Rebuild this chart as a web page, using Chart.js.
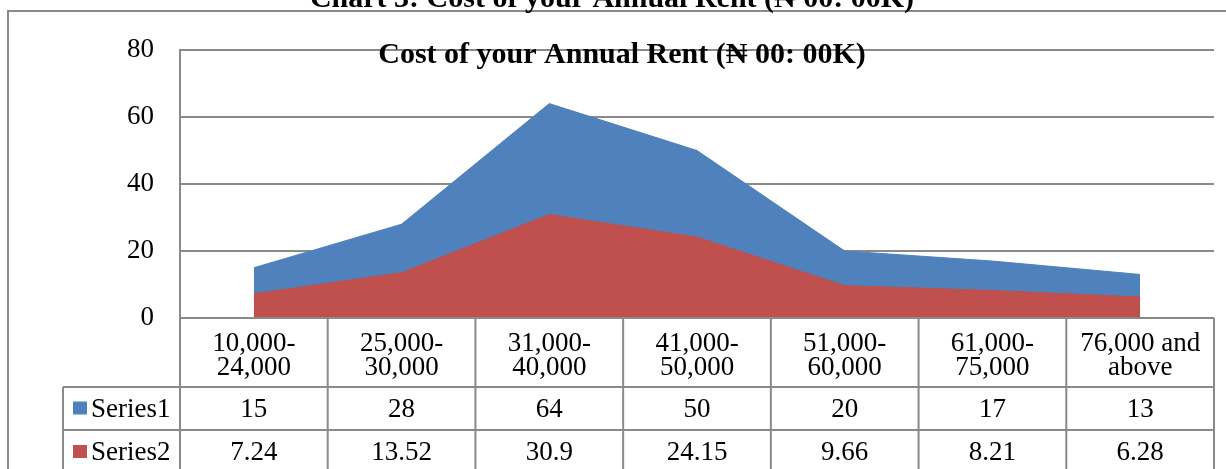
<!DOCTYPE html>
<html>
<head>
<meta charset="utf-8">
<script src="https://cdn.jsdelivr.net/npm/chart.js@4"></script>
<style>
  body { margin: 0; background: #fff; }
  canvas { display: block; }
</style>
</head>
<body>
<canvas id="myChart" width="1226" height="469"></canvas>
<script>
// data
var categories = [
    ['10,000-', '24,000'],
    ['25,000-', '30,000'],
    ['31,000-', '40,000'],
    ['41,000-', '50,000'],
    ['51,000-', '60,000'],
    ['61,000-', '75,000'],
    ['76,000 and', 'above']
];
var series1 = [15, 28, 64, 50, 20, 17, 13];
var series2 = [7.24, 13.52, 30.9, 24.15, 9.66, 8.21, 6.28];
var seriesNames = ['Series1', 'Series2'];
var yMin = 0, yMax = 80, yStep = 20;

var pageTitle = 'Chart 3: Cost of your Annual Rent (\u20A6 00: 00K)';
var chartTitle = 'Cost of your Annual Rent (\u20A6 00: 00K)';

var BLUE = '#4F81BD';
var RED = '#C0504D';
var GREY = '#8a8a8a';
var SERIF = "'Liberation Serif', 'DejaVu Serif', serif";

// frame, titles and data table underneath the plot
var extras = {
    id: 'extras',
    afterDraw: function(chart) {
        var ctx = chart.ctx;
        var area = chart.chartArea;
        var x = chart.scales.x;
        var n = categories.length;
        var colW = (area.right - area.left) / n;
        var rowCat = area.bottom + 69;
        var rowS1 = rowCat + 43;
        var legendLeft = 63;

        ctx.save();
        ctx.strokeStyle = GREY;
        ctx.lineWidth = 2;

        // outer frame
        ctx.beginPath();
        ctx.moveTo(8, chart.height);
        ctx.lineTo(8, 11);
        ctx.lineTo(chart.width, 11);
        ctx.stroke();

        // table lines
        ctx.beginPath();
        ctx.moveTo(area.left, area.bottom);
        ctx.lineTo(area.right, area.bottom);
        ctx.moveTo(legendLeft, rowCat);
        ctx.lineTo(area.right, rowCat);
        ctx.moveTo(legendLeft, rowS1);
        ctx.lineTo(area.right, rowS1);
        ctx.moveTo(legendLeft, rowCat);
        ctx.lineTo(legendLeft, chart.height);
        for (var i = 0; i <= n; i++) {
            var lx = area.left + i * colW;
            ctx.moveTo(lx, area.bottom);
            ctx.lineTo(lx, chart.height);
        }
        ctx.stroke();

        // category labels
        ctx.fillStyle = '#000';
        ctx.font = '27px ' + SERIF;
        ctx.textAlign = 'center';
        ctx.textBaseline = 'middle';
        categories.forEach(function(lines, i) {
            var cx = x.getPixelForValue(i);
            ctx.fillText(lines[0], cx, area.bottom + 26);
            ctx.fillText(lines[1], cx, area.bottom + 50);
        });

        // values
        [series1, series2].forEach(function(vals, r) {
            var cy = (r === 0 ? (rowCat + rowS1) / 2 : rowS1 + 22) + 1;
            vals.forEach(function(v, i) {
                ctx.fillText(String(v), x.getPixelForValue(i), cy);
            });
            // legend key
            ctx.fillStyle = r === 0 ? BLUE : RED;
            ctx.fillRect(73, cy - 8, 14, 13);
            ctx.fillStyle = '#000';
            ctx.textAlign = 'left';
            ctx.fillText(seriesNames[r], 91, cy);
            ctx.textAlign = 'center';
        });

        // titles
        ctx.font = 'bold 30px ' + SERIF;
        ctx.textBaseline = 'alphabetic';
        ctx.fillText(pageTitle, 612, 7);
        ctx.fillText(chartTitle, 622, 63);
        ctx.restore();
    }
};

var ctx = document.getElementById('myChart').getContext('2d');
var chart = new Chart(ctx, {
    type: 'line',
    data: {
        labels: categories,
        datasets: [{
            label: seriesNames[0],
            data: series1,
            backgroundColor: BLUE,
            borderColor: BLUE,
            borderWidth: 1,
            fill: 'origin',
            pointRadius: 0,
            order: 2
        }, {
            label: seriesNames[1],
            data: series2,
            backgroundColor: RED,
            borderColor: RED,
            borderWidth: 1,
            fill: 'origin',
            pointRadius: 0,
            order: 1
        }]
    },
    options: {
        responsive: false,
        animation: false,
        devicePixelRatio: 1,
        layout: { padding: { left: 0, top: 50, right: 12, bottom: 151 } },
        plugins: {
            legend: { display: false },
            tooltip: { enabled: false }
        },
        scales: {
            x: {
                display: false,
                offset: true
            },
            y: {
                min: yMin,
                max: yMax,
                afterFit: function(s) { s.width = 180; },
                ticks: {
                    stepSize: yStep,
                    padding: 26,
                    color: '#000',
                    font: { family: SERIF, size: 27 }
                },
                grid: { color: GREY, lineWidth: 2, drawTicks: false },
                border: { color: GREY, width: 2 }
            }
        }
    },
    plugins: [extras]
});
</script>
</body>
</html>
